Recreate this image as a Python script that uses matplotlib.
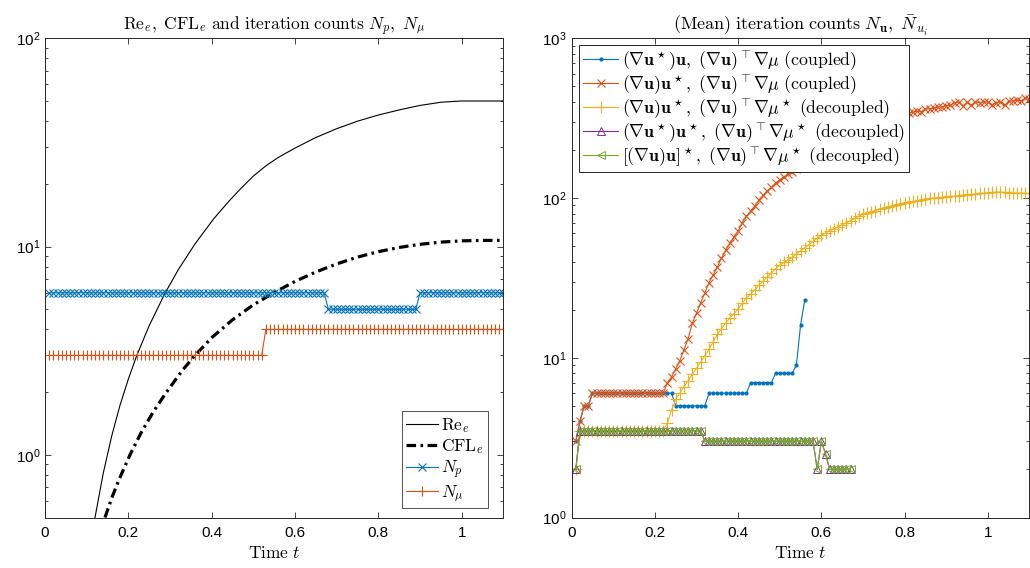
import numpy as np
import matplotlib
matplotlib.use("Agg")
import matplotlib.pyplot as plt
from matplotlib.ticker import LogLocator, NullFormatter, FixedLocator

plt.rcParams['font.family'] = ['Liberation Sans', 'DejaVu Sans']
plt.rcParams['mathtext.fontset'] = 'cm'

# ---------------- data ----------------
dt = 0.01

# element Reynolds and CFL numbers (smooth curves)
re_t = [0.12, 0.14, 0.16, 0.18, 0.20, 0.22, 0.25, 0.288, 0.32, 0.36, 0.405,
        0.44, 0.47, 0.50, 0.53, 0.56, 0.60, 0.65, 0.70, 0.75, 0.80, 0.85,
        0.90, 0.95, 1.0, 1.1]
re_v = [0.50, 0.82, 1.23, 1.73, 2.31, 2.99, 4.17, 5.97, 7.75, 10.3, 13.6,
        16.4, 19.0, 21.8, 24.4, 26.8, 29.7, 33.4, 36.8, 40.0, 42.8, 45.3,
        47.6, 49.3, 50.0, 50.0]
cfl_t = [0.144, 0.16, 0.18, 0.204, 0.23, 0.26, 0.29, 0.33, 0.36, 0.40, 0.45,
         0.50, 0.549, 0.60, 0.65, 0.70, 0.75, 0.80, 0.85, 0.90, 0.95, 1.0,
         1.05, 1.1]
cfl_v = [0.50, 0.62, 0.78, 1.00, 1.27, 1.61, 1.98, 2.55, 3.0, 3.65, 4.45,
         5.25, 6.0, 6.8, 7.55, 8.25, 8.9, 9.45, 9.9, 10.25, 10.5, 10.65,
         10.7, 10.7]

# solver iteration counts per time step
n_p = [6] * 67 + [5] * 22 + [6] * 21
n_mu = [3] * 52 + [4] * 58

# velocity iteration counts for the five convection variants
it_coupled_a = ([3, 4, 5, 5] + [6] * 20 + [5] * 8 + [6] * 10 + [7] * 6 + [8] * 5
                + [9, 16, 23])
it_coupled_b = ([3, 4, 5, 5] + [6] * 18 +
                [7, 7.6, 8.5, 9.6, 11.2, 13.2, 16.5, 19, 22, 25.5, 29.5, 33, 37,
                 42, 47, 52, 57, 62, 70, 77, 83, 89, 97, 104, 111, 117, 124, 130,
                 136, 141, 146, 152, 160,
                 166, 172, 178, 184, 190, 196, 202, 208, 214, 220, 226, 232, 238,
                 244, 250, 256, 262, 268, 275, 282, 290, 300, 310, 322,
                 337, 340, 345, 350, 348, 360, 362, 365, 370, 372, 378, 380, 395,
                 400, 375, 398, 380, 400, 395, 400, 398, 385, 395, 400, 380, 405,
                 405, 410, 405, 420, 415])
it_decoupled_a = ([2] + [3.5] * 21 +
                  [3.9, 4.7, 5.5, 6.0, 6.6, 7.2, 7.9, 8.6, 9.4, 10.3, 11.3, 12.6,
                   14.0, 15.2, 16.5, 17.7, 18.9, 20.2, 22.0, 23.7, 25.0, 26.6,
                   28.5, 30.2, 32.0, 34.0, 36.2, 38.0, 39.5, 41.0, 42.5, 44.5,
                   46.7, 48.8, 51, 53.5, 56, 58.3, 60.5, 62.5, 64.3, 66, 68, 70,
                   72.2, 74.5, 77, 79, 80.5, 82, 83.5, 85, 86.5, 88, 89.5, 91,
                   92.2, 93.3, 94.2, 95.2, 96.3, 97.5, 98.5, 99.4, 100, 100.6,
                   101, 101.6, 102.3, 103, 103.6, 104.3, 105, 105.5, 106, 107,
                   107.5, 108, 108.5, 109, 109, 108.6, 108, 107.5, 107.5, 107.2,
                   107, 107])
it_decoupled_b = [2] + [3.5] * 30 + [3.0] * 27 + [2, 3, 2.5, 2, 2, 2, 2, 2, 2]
it_decoupled_c = [2] + [3.5] * 30 + [3.0] * 27 + [2, 3, 2.5, 2, 2, 2, 2, 2, 2]

labels_right = [
    r'$(\nabla\mathbf{u}^\star)\mathbf{u},\ (\nabla\mathbf{u})^\top\nabla\mu\ \mathrm{(coupled)}$',
    r'$(\nabla\mathbf{u})\mathbf{u}^\star,\ (\nabla\mathbf{u})^\top\nabla\mu\ \mathrm{(coupled)}$',
    r'$(\nabla\mathbf{u})\mathbf{u}^\star,\ (\nabla\mathbf{u})^\top\nabla\mu^\star\ \mathrm{(decoupled)}$',
    r'$(\nabla\mathbf{u}^\star)\mathbf{u}^\star,\ (\nabla\mathbf{u})^\top\nabla\mu^\star\ \mathrm{(decoupled)}$',
    r'$[(\nabla\mathbf{u})\mathbf{u}]^\star,\ (\nabla\mathbf{u})^\top\nabla\mu^\star\ \mathrm{(decoupled)}$',
]


def steps(values):
    return dt * np.arange(1, len(values) + 1)


C_BLUE = '#0072BD'
C_ORANGE = '#D95319'
C_YELLOW = '#EDB120'
C_PURPLE = '#7E2F8E'
C_GREEN = '#77AC30'

fig = plt.figure(figsize=(10.30, 5.68), dpi=100)
ax1 = fig.add_axes([0.0437, 0.0889, 0.445, 0.8437])
ax2 = fig.add_axes([0.555, 0.0889, 0.4445, 0.8437])


def style_axes(ax, ylim):
    ax.set_yscale('log')
    ax.set_xlim(0, 1.1)
    ax.set_ylim(*ylim)
    ax.xaxis.set_major_locator(FixedLocator([0, 0.2, 0.4, 0.6, 0.8, 1.0]))
    ax.set_xticklabels(['0', '0.2', '0.4', '0.6', '0.8', '1'])
    ax.yaxis.set_major_locator(LogLocator(base=10, numticks=10))
    ax.yaxis.set_minor_locator(LogLocator(base=10, subs=np.arange(2, 10), numticks=20))
    ax.yaxis.set_minor_formatter(NullFormatter())
    ax.tick_params(which='both', direction='in', top=True, right=True,
                   colors='#262626', labelcolor='black', labelsize=11, width=0.6)
    ax.tick_params(which='major', length=4.2)
    ax.tick_params(axis='x', which='major', pad=6)
    ax.tick_params(which='minor', length=2.4)
    for sp in ax.spines.values():
        sp.set_color('#262626')
        sp.set_linewidth(0.7)
    ax.set_xlabel(r'$\mathrm{Time}\ t$', fontsize=12.5, labelpad=4)


# ---------- left panel ----------
style_axes(ax1, (0.5, 100))
ax1.plot(re_t, re_v, color='black', lw=0.8, label=r'$\mathrm{Re}_e$')
ax1.plot(cfl_t, cfl_v, color='black', lw=2.3, linestyle=(0, (3.0, 1.4, 0.8, 1.4)),
         label=r'$\mathrm{CFL}_e$')
ax1.plot(steps(n_p), n_p, color=C_BLUE, lw=0.8, marker='x', ms=5.5, mew=0.8,
         label=r'$N_p$')
ax1.plot(steps(n_mu), n_mu, color=C_ORANGE, lw=0.8, marker='+', ms=7.5, mew=0.8,
         label=r'$N_\mu$')
ax1.set_title(r'$\mathrm{Re}_e,\ \mathrm{CFL}_e\ \mathrm{and\ iteration\ counts}\ N_p,\ N_\mu$',
              fontsize=12.5, pad=5)
leg1 = ax1.legend(loc='lower right', bbox_to_anchor=(0.9666, 0.0198), borderaxespad=0,
                  fontsize=12.5, frameon=True, fancybox=False, edgecolor='#262626',
                  handlelength=1.8, handletextpad=0.2, labelspacing=0.15,
                  borderpad=0.25)
leg1.get_frame().set_linewidth(0.7)

# ---------- right panel ----------
style_axes(ax2, (1, 1000))
ax2.plot(steps(it_coupled_a), it_coupled_a, color=C_BLUE, lw=0.8, marker='.',
         ms=4, label=labels_right[0])
ax2.plot(steps(it_coupled_b), it_coupled_b, color=C_ORANGE, lw=0.8, marker='x',
         ms=6, mew=0.8, label=labels_right[1])
ax2.plot(steps(it_decoupled_a), it_decoupled_a, color=C_YELLOW, lw=0.8, marker='+',
         ms=9, mew=0.8, label=labels_right[2])
ax2.plot(steps(it_decoupled_b), it_decoupled_b, color=C_PURPLE, lw=0.8, marker='^',
         ms=6, mew=0.7, fillstyle='none', label=labels_right[3])
ax2.plot(steps(it_decoupled_c), it_decoupled_c, color=C_GREEN, lw=0.8, marker='<',
         ms=6, mew=0.7, fillstyle='none', label=labels_right[4])
ax2.set_title(r'$\mathrm{(Mean)\ iteration\ counts}\ N_{\mathbf{u}},\ \bar{N}_{u_i}$',
              fontsize=13, pad=5)
leg2 = ax2.legend(loc='upper left', bbox_to_anchor=(0.0166, 0.986), borderaxespad=0,
                  fontsize=12.8, frameon=True, fancybox=False, edgecolor='#262626',
                  framealpha=1, handlelength=2.0, handletextpad=0.2,
                  labelspacing=0.0, borderpad=0.2)
leg2.get_frame().set_linewidth(0.7)

fig.savefig('out.png', dpi=100)
